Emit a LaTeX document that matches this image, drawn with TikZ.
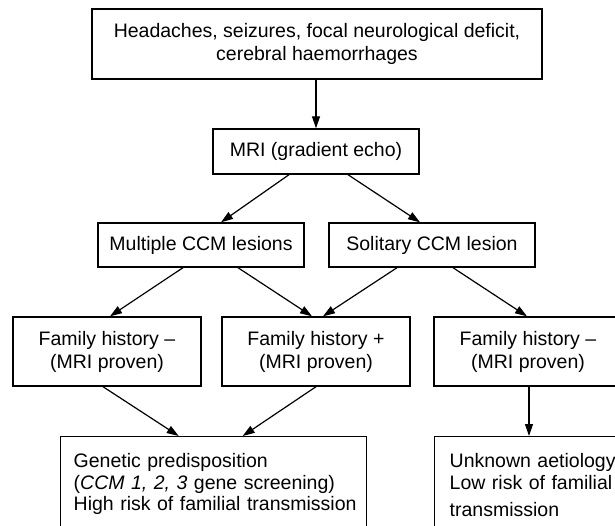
\documentclass[tikz,border=0pt]{standalone}
\usepackage{fontspec}
\setmainfont{Liberation Sans}
\usetikzlibrary{arrows.meta}
\begin{document}
\begin{tikzpicture}[x=1pt,y=-1pt,
  box/.style={draw, line width=1.4pt, align=center, inner sep=0pt,
    font=\fontsize{19.5}{23}\selectfont},
  tbox/.style={box, align=left, anchor=north west, inner xsep=13pt,
    inner ysep=17pt, text depth=60pt, text width=280pt,
    font=\fontsize{19.5}{21.5}\selectfont},
  arr/.style={line width=1.2pt, -{Triangle[length=12pt,width=8pt]}}]
\path[use as bounding box] (0,0) rectangle (615,526);
\clip (0,0) rectangle (615,526);
\fill[white] (0,0) rectangle (615,526);

\node[box, minimum width=450pt, minimum height=70pt] (top) at (317,44)
  {Headaches, seizures, focal neurological deficit,\\cerebral haemorrhages};
\node[box, minimum width=206pt, minimum height=45pt] (mri) at (316,151.5)
  {MRI (gradient echo)};
\node[box, minimum width=206pt, minimum height=44pt] (mul) at (201,245)
  {Multiple CCM lesions};
\node[box, minimum width=206pt, minimum height=44pt] (sol) at (432,245)
  {Solitary CCM lesion};
\node[box, minimum width=188pt, minimum height=69pt] (fhl) at (107,351.5)
  {Family history \textendash\\(MRI proven)};
\node[box, minimum width=188pt, minimum height=69pt] (fhp) at (316,351.5)
  {Family history +\\(MRI proven)};
\node[box, minimum width=188pt, minimum height=69pt] (fhr) at (528,351.5)
  {Family history \textendash\\(MRI proven)};
\node[tbox] (gen) at (60,436)
  {\mbox{Genetic predisposition}\\\mbox{(\textit{CCM 1, 2, 3} gene screening)}\\\mbox{High risk of familial transmission}};
\node[tbox, inner xsep=15pt] (unk) at (434,436)
  {\mbox{Unknown aetiology}\\\mbox{Low risk of familial}\\[6pt]\mbox{transmission}};

\draw[arr] (mri.north |- top.south) -- (mri.north);
\draw[arr] ([xshift=-27pt]mri.south) -- ([xshift=20pt]mul.north);
\draw[arr] ([xshift=32pt]mri.south) -- ([xshift=-12pt]sol.north);
\draw[arr] ([xshift=-18pt]mul.south) -- ([xshift=3pt]fhl.north);
\draw[arr] ([xshift=37pt]mul.south) -- ([xshift=-4pt]fhp.north);
\draw[arr] ([xshift=-35pt]sol.south) -- ([xshift=7pt]fhp.north);
\draw[arr] ([xshift=21pt]sol.south) -- ([xshift=-1pt]fhr.north);
\draw[arr] ([xshift=-4pt]fhl.south) -- ([xshift=-35pt]gen.north);
\draw[arr] (fhp.south) -- ([xshift=29pt]gen.north);
\draw[arr] ([xshift=1pt]fhr.south) -- ([xshift=1pt]fhr.south |- unk.north);
\end{tikzpicture}
\end{document}
